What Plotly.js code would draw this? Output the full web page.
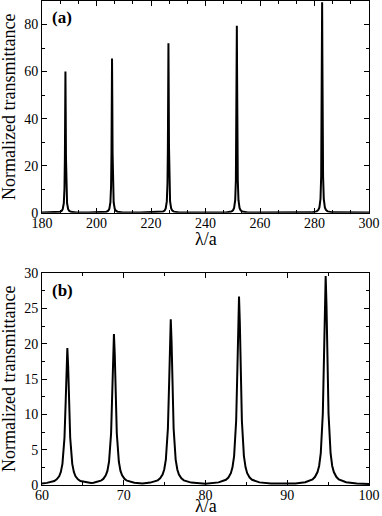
<!DOCTYPE html>
<html>
<head>
<meta charset="utf-8">
<script src="https://cdn.plot.ly/plotly-3.0.1.min.js"></script>
<style>
  html, body { margin: 0; padding: 0; background: #fff; }
  #chart { width: 382px; height: 516px; }
</style>
</head>
<body>
<div id="chart"></div>
<script>
// panel (a): lambda/a vs normalized transmittance
const topLambda = [
  180,
  184.6, 186.6, 187.2, 187.6, 188.0, 188.25, 188.4, 188.5, 188.6, 188.7, 188.8, 188.95, 189.2, 189.6, 190.0, 190.6, 192.6,
  197,
  201.7, 203.7, 204.3, 204.7, 205.1, 205.35, 205.5, 205.6, 205.7, 205.8, 205.9, 206.05, 206.3, 206.7, 207.1, 207.7, 209.7,
  216,
  222.4, 224.4, 225.0, 225.4, 225.8, 226.05, 226.2, 226.3, 226.4, 226.5, 226.6, 226.75, 227.0, 227.4, 227.8, 228.4, 230.4,
  239,
  247.5, 249.5, 250.1, 250.5, 250.9, 251.15, 251.3, 251.4, 251.5, 251.6, 251.7, 251.85, 252.1, 252.5, 252.9, 253.5, 255.5,
  267,
  278.8, 280.8, 281.4, 281.8, 282.2, 282.45, 282.6, 282.7, 282.8, 282.9, 283.0, 283.15, 283.4, 283.8, 284.2, 284.8, 286.8,
  300,
];
const topTrans = [
  0.04,
  0.1, 0.38, 0.77, 1.5, 4.0, 10.4, 23.4, 43.1, 60.0, 43.1, 23.4, 10.4, 4.0, 1.5, 0.77, 0.38, 0.1,
  0.04,
  0.1, 0.42, 0.84, 1.64, 4.35, 11.3, 25.5, 47.1, 65.5, 47.1, 25.5, 11.3, 4.35, 1.64, 0.84, 0.42, 0.1,
  0.04,
  0.12, 0.46, 0.93, 1.8, 4.8, 12.5, 28.1, 51.8, 72.0, 51.8, 28.1, 12.5, 4.8, 1.8, 0.93, 0.46, 0.12,
  0.04,
  0.13, 0.51, 1.03, 2.0, 5.3, 13.8, 31.0, 57.2, 79.5, 57.2, 31.0, 13.8, 5.3, 2.0, 1.03, 0.51, 0.13,
  0.04,
  0.14, 0.57, 1.15, 2.24, 5.9, 15.5, 34.9, 64.4, 89.5, 64.4, 34.9, 15.5, 5.9, 2.24, 1.15, 0.57, 0.14,
  0.05,
];

// panel (b)
const bottomLambda = [
  60, 60.6, 61.5, 61.8, 62.1, 62.3, 62.5, 62.75, 62.9, 63.0, 63.1, 63.2, 63.3, 63.45, 63.7, 63.9, 64.1, 64.4, 64.7, 65.6,
  66.0,
  66.3, 67.2, 67.5, 67.8, 68.0, 68.2, 68.45, 68.6, 68.7, 68.8, 68.9, 69.0, 69.15, 69.4, 69.6, 69.8, 70.1, 70.4, 71.3,
  72.3,
  73.25, 74.15, 74.45, 74.75, 74.95, 75.15, 75.4, 75.55, 75.65, 75.75, 75.85, 75.95, 76.1, 76.35, 76.55, 76.75, 77.05, 77.35, 78.25,
  80.0,
  81.6, 82.5, 82.8, 83.1, 83.3, 83.5, 83.75, 83.9, 84.0, 84.1, 84.2, 84.3, 84.45, 84.7, 84.9, 85.1, 85.4, 85.7, 86.6,
  88.0, 89.4, 91.0,
  92.2, 93.1, 93.4, 93.7, 93.9, 94.1, 94.35, 94.5, 94.6, 94.7, 94.8, 94.9, 95.05, 95.3, 95.5, 95.7, 96.0, 96.3, 97.2,
  98.5, 100,
];
const bottomTrans = [
  0.2, 0.3, 0.56, 0.8, 1.24, 1.83, 3.0, 6.7, 11.9, 16.8, 19.4, 16.8, 11.9, 6.7, 3.0, 1.83, 1.24, 0.8, 0.56, 0.3,
  0.27,
  0.32, 0.61, 0.86, 1.36, 2.0, 3.3, 7.3, 13.2, 18.5, 21.4, 18.5, 13.2, 7.3, 3.3, 2.0, 1.36, 0.86, 0.61, 0.32,
  0.22,
  0.34, 0.66, 0.94, 1.48, 2.2, 3.6, 8.0, 14.4, 20.3, 23.5, 20.3, 14.4, 8.0, 3.6, 2.2, 1.48, 0.94, 0.66, 0.34,
  0.18,
  0.37, 0.74, 1.05, 1.67, 2.5, 4.1, 9.1, 16.4, 23.0, 26.7, 23.0, 16.4, 9.1, 4.1, 2.5, 1.67, 1.05, 0.74, 0.37,
  0.22, 0.17, 0.22,
  0.4, 0.8, 1.16, 1.84, 2.7, 4.5, 10.1, 18.2, 25.5, 29.6, 25.5, 18.2, 10.1, 4.5, 2.7, 1.84, 1.16, 0.8, 0.4,
  0.22, 0.14,
];

const panelLabels = ['(a)', '(b)'];
const xTitle = 'λ/a';
const yTitle = 'Normalized transmittance';

const serif = 'Liberation Serif';

function axisBase(extra) {
  return Object.assign({
    showline: true,
    linecolor: 'black',
    linewidth: 1,
    mirror: 'allticks',
    ticks: 'inside',
    ticklen: 5,
    tickwidth: 1,
    tickcolor: 'black',
    showgrid: false,
    zeroline: false,
    fixedrange: true,
    tickfont: { family: serif, size: 14, color: 'black' },
  }, extra);
}

function titleNote(text, x, y, angle) {
  return {
    text: text,
    xref: 'paper', yref: 'paper',
    x: x, y: y, xanchor: 'center', yanchor: 'middle',
    textangle: angle,
    borderpad: 0,
    showarrow: false,
    font: { family: serif, size: 18, color: 'black' },
  };
}

const data = [
  {
    type: 'scatter',
    mode: 'lines',
    x: topLambda,
    y: topTrans,
    xaxis: 'x',
    yaxis: 'y',
    line: { color: 'black', width: 2 },
    hoverinfo: 'skip',
  },
  {
    type: 'scatter',
    mode: 'lines',
    x: bottomLambda,
    y: bottomTrans,
    xaxis: 'x2',
    yaxis: 'y2',
    line: { color: 'black', width: 2 },
    hoverinfo: 'skip',
  },
];

const layout = {
  width: 382,
  height: 516,
  paper_bgcolor: 'white',
  plot_bgcolor: 'white',
  showlegend: false,
  font: { family: serif, color: 'black' },
  margin: { t: 1, b: 31, l: 42, r: 13, pad: 0 },
  xaxis: axisBase({
    domain: [0, 1],
    anchor: 'y',
    range: [180, 300],
    tick0: 180,
    dtick: 20,
    ticklabelstandoff: -3,
    minor: { ticks: 'inside', ticklen: 3, tickcolor: 'black', tick0: 180, dtick: 20 / 3 },
  }),
  yaxis: axisBase({
    domain: [0.5626, 1],
    anchor: 'x',
    range: [0, 90],
    tick0: 0,
    dtick: 20,
    minor: { ticks: 'inside', ticklen: 3, tickcolor: 'black', tick0: 0, dtick: 10 },
  }),
  xaxis2: axisBase({
    domain: [0, 1],
    anchor: 'y2',
    range: [60, 100],
    tick0: 60,
    dtick: 10,
    ticklabelstandoff: -3,
    minor: { ticks: 'inside', ticklen: 3, tickcolor: 'black', tick0: 60, dtick: 5 },
  }),
  yaxis2: axisBase({
    domain: [0, 0.4374],
    anchor: 'x2',
    range: [0, 30],
    tick0: 0,
    dtick: 5,
    minor: { ticks: 'inside', ticklen: 3, tickcolor: 'black', tick0: 0, dtick: 2.5 },
  }),
  annotations: [
    {
      text: '<b>' + panelLabels[0] + '</b>',
      xref: 'x domain', yref: 'y domain',
      x: 0.025, y: 0.92, xanchor: 'left', yanchor: 'middle',
      showarrow: false,
      font: { family: serif, size: 17, color: 'black' },
    },
    {
      text: '<b>' + panelLabels[1] + '</b>',
      xref: 'x2 domain', yref: 'y2 domain',
      x: 0.025, y: 0.92, xanchor: 'left', yanchor: 'middle',
      showarrow: false,
      font: { family: serif, size: 17, color: 'black' },
    },
    titleNote(xTitle, 0.5, 0.5083, 0),
    titleNote(xTitle, 0.5, -0.0434, 0),
    titleNote(yTitle, -0.101, 0.781, -90),
    titleNote(yTitle, -0.101, 0.219, -90),
  ],
};

Plotly.newPlot('chart', data, layout, { displayModeBar: false, staticPlot: true });
</script>
</body>
</html>
